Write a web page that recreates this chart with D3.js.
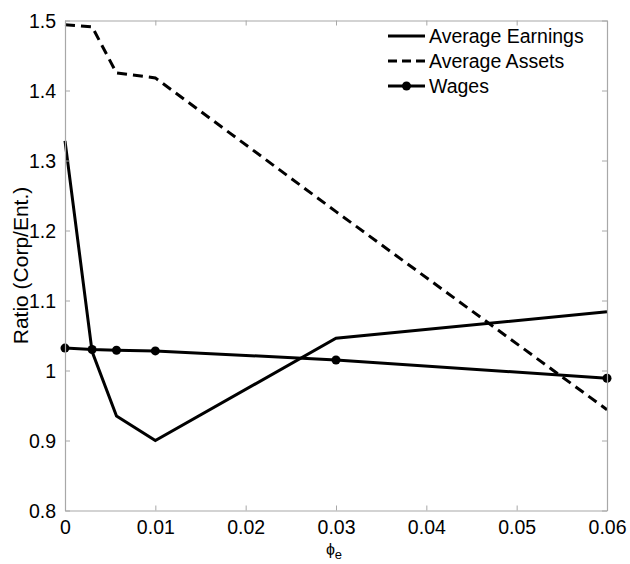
<!DOCTYPE html>
<html>
<head>
<meta charset="utf-8">
<script src="https://cdn.jsdelivr.net/npm/d3@7"></script>
<style>
  html, body { margin: 0; padding: 0; background: #fff; }
  svg { display: block; font-family: "Liberation Sans", Arial, Helvetica, sans-serif; }
</style>
</head>
<body>
<svg id="chart" width="630" height="564"></svg>
<script>
// Corporate vs. entrepreneurial ratios as a function of phi_e
const phiE = [0, 0.003, 0.0057, 0.01, 0.03, 0.06];
const avgEarnings = [1.328, 1.027, 0.935, 0.900, 1.046, 1.084];
const avgAssets = [1.494, 1.491, 1.425, 1.418, 1.227, 0.944];
const wages = [1.032, 1.030, 1.029, 1.028, 1.015, 0.989];

const xTicks = [0, 0.01, 0.02, 0.03, 0.04, 0.05, 0.06];
const xTickLabels = ["0", "0.01", "0.02", "0.03", "0.04", "0.05", "0.06"];
const yTicks = [0.8, 0.9, 1.0, 1.1, 1.2, 1.3, 1.4, 1.5];
const yTickLabels = ["0.8", "0.9", "1", "1.1", "1.2", "1.3", "1.4", "1.5"];

const seriesNames = ["Average Earnings", "Average Assets", "Wages"];

const svg = d3.select("#chart");
const plot = { left: 65, right: 607, top: 20.5, bottom: 510.5 };

const x = d3.scaleLinear().domain([0, 0.06]).range([plot.left, plot.right]);
const y = d3.scaleLinear().domain([0.8, 1.5]).range([plot.bottom, plot.top]);

const axisColor = "#a8a8a8";
const tickLen = 5;

const line = d3.line().x(d => x(d[0])).y(d => y(d[1]));
const pts = vals => phiE.map((p, i) => [p, vals[i]]);

// data lines
const g = svg.append("g");
g.append("path").attr("d", line(pts(avgAssets)))
  .attr("fill", "none").attr("stroke", "#000").attr("stroke-width", 3)
  .attr("stroke-dasharray", "10,6");
g.append("path").attr("d", line(pts(avgEarnings)))
  .attr("fill", "none").attr("stroke", "#000").attr("stroke-width", 3)
  .attr("stroke-linejoin", "miter");
g.append("path").attr("d", line(pts(wages)))
  .attr("fill", "none").attr("stroke", "#000").attr("stroke-width", 3);
g.selectAll("circle.wage").data(pts(wages)).join("circle")
  .attr("class", "wage")
  .attr("cx", d => x(d[0])).attr("cy", d => y(d[1])).attr("r", 4.5)
  .attr("fill", "#000");

// axes box with inward ticks
const axes = svg.append("g");
const fmtX = (d, i) => xTickLabels[i];
const fmtY = (d, i) => yTickLabels[i];

const bottomAxis = axes.append("g").attr("transform", `translate(0,${plot.bottom})`)
  .call(d3.axisBottom(x).tickValues(xTicks).tickFormat(fmtX).tickSizeInner(-tickLen).tickSizeOuter(0).tickPadding(12));
const leftAxis = axes.append("g").attr("transform", `translate(${plot.left},0)`)
  .call(d3.axisLeft(y).tickValues(yTicks).tickFormat(fmtY).tickSizeInner(-tickLen).tickSizeOuter(0).tickPadding(9));
const topAxis = axes.append("g").attr("transform", `translate(0,${plot.top})`)
  .call(d3.axisTop(x).tickValues(xTicks).tickFormat("").tickSizeInner(-tickLen).tickSizeOuter(0));
const rightAxis = axes.append("g").attr("transform", `translate(${plot.right},0)`)
  .call(d3.axisRight(y).tickValues(yTicks).tickFormat("").tickSizeInner(-tickLen).tickSizeOuter(0));

[bottomAxis, leftAxis, topAxis, rightAxis].forEach(a => {
  a.select(".domain").attr("stroke", axisColor).attr("stroke-width", 1.2);
  a.selectAll(".tick line").attr("stroke", axisColor);
  a.selectAll(".tick text").attr("fill", "#000")
    .style("font-family", '"Liberation Sans", Arial, sans-serif')
    .style("font-size", "19.5px");
});
bottomAxis.selectAll(".tick text").attr("dy", "0.71em").attr("y", 10);
leftAxis.selectAll(".tick text").attr("dy", "0.36em");

// axis labels
svg.append("text")
  .attr("transform", `translate(28,${(plot.top + plot.bottom) / 2}) rotate(-90)`)
  .attr("text-anchor", "middle")
  .style("font-size", "21px")
  .text("Ratio (Corp/Ent.)");

const xl = svg.append("text")
  .attr("x", 334).attr("y", 555)
  .attr("text-anchor", "middle")
  .style("font-size", "16px");
xl.append("tspan").text("ϕ");
xl.append("tspan").attr("dy", 4).style("font-size", "13px").text("e");

// legend
const legend = svg.append("g");
const rows = [
  { name: seriesNames[0], dash: null, marker: false },
  { name: seriesNames[1], dash: "9,5", marker: false },
  { name: seriesNames[2], dash: null, marker: true }
];
rows.forEach((r, i) => {
  const cy = 36 + i * 25;
  legend.append("line")
    .attr("x1", 388).attr("x2", 425).attr("y1", cy).attr("y2", cy)
    .attr("stroke", "#000").attr("stroke-width", 3)
    .attr("stroke-dasharray", r.dash);
  if (r.marker) {
    legend.append("circle").attr("cx", 406.5).attr("cy", cy).attr("r", 4.5).attr("fill", "#000");
  }
  legend.append("text")
    .attr("x", 429).attr("y", cy + 7)
    .style("font-size", "19.5px")
    .text(r.name);
});
</script>
</body>
</html>
